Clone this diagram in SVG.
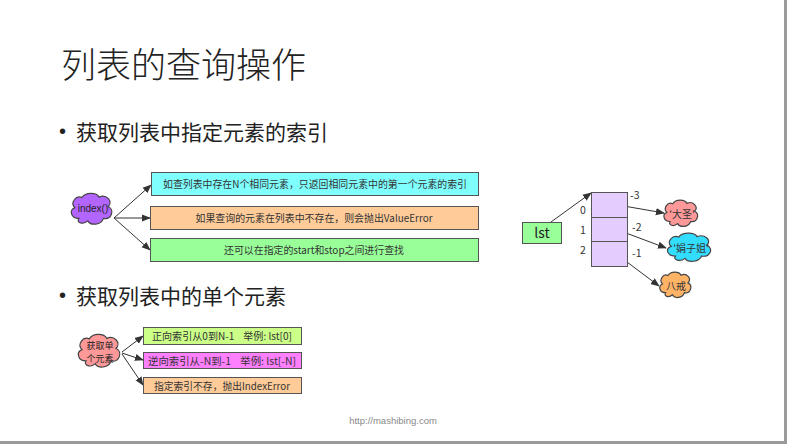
<svg xmlns="http://www.w3.org/2000/svg" xmlns:xlink="http://www.w3.org/1999/xlink" width="787" height="444" viewBox="0 0 787 444">
<style>
text{font-family:"Noto Sans CJK SC","Liberation Sans",sans-serif;fill:#222}
.title{font-size:35px;font-weight:300}
.bullet{font-size:21px}
.dot{font-size:20px;font-family:"Liberation Sans",sans-serif}
.box{stroke:#555;stroke-width:1}
.t11{font-size:10px;text-anchor:middle;fill:#333;white-space:pre}
.lbl{font-size:10.5px;fill:#333}
.conn line{stroke:#333;stroke-width:1;marker-end:url(#arr)}
.cloud{stroke:#444;stroke-width:1.2;vector-effect:non-scaling-stroke}
</style>
<defs>
<marker id="arr" viewBox="0 0 10 10" refX="9" refY="5" markerWidth="9" markerHeight="9" markerUnits="userSpaceOnUse" orient="auto">
<path d="M0,1 L10,5 L0,9 Z" fill="#333"/>
</marker>
<symbol id="cloudA" viewBox="0 0 120 80" preserveAspectRatio="none">
<path class="cloud" d="M25,62 C4,62 0,42 15,37 C2,26 18,6 33,13 C42,0 70,0 77,12 C95,4 114,22 100,34 C118,42 108,66 88,62 C82,78 55,80 48,68 C36,78 18,72 25,62 Z"/>
</symbol>
</defs>
<rect x="0" y="0" width="787" height="444" fill="#fff"/>
<rect x="784" y="0" width="3" height="444" fill="#9a9a9a"/>
<rect x="0" y="441" width="787" height="3" fill="#9a9a9a"/>

<text class="title" x="61" y="78">列表的查询操作</text>
<text class="dot" x="59" y="138">•</text>
<text class="bullet" x="76" y="140">获取列表中指定元素的索引</text>
<text class="dot" x="59" y="302">•</text>
<text class="bullet" x="76" y="304">获取列表中的单个元素</text>

<g class="conn" id="connectors">
<line x1="114" y1="218" x2="151" y2="185"/>
<line x1="114" y1="218" x2="150" y2="218"/>
<line x1="114" y1="218" x2="150" y2="250"/>
<line x1="122" y1="352" x2="143" y2="336"/>
<line x1="122" y1="353" x2="143" y2="360"/>
<line x1="122" y1="354" x2="143" y2="385"/>
<line x1="551" y1="222" x2="591" y2="193"/>
<line x1="618" y1="205" x2="664" y2="213"/>
<line x1="618" y1="230" x2="666" y2="248"/>
<line x1="615" y1="253" x2="659" y2="286"/>
</g>

<g id="index-node">
<use xlink:href="#cloudA" x="69" y="192" width="47" height="34" fill="#b366ff"/>
<text x="93" y="212" style="font-size:10px;text-anchor:middle;font-family:'Liberation Sans',sans-serif;fill:#222">index()</text>
</g>
<g id="box1">
<rect class="box" x="151.5" y="172.5" width="327" height="23" fill="#80ffff"/>
<text class="t11" x="315" y="187.5" textLength="304" lengthAdjust="spacingAndGlyphs">如查列表中存在N个相同元素，只返回相同元素中的第一个元素的索引</text>
</g>
<g id="box2">
<rect class="box" x="150.5" y="206.5" width="328" height="23" fill="#ffcc99"/>
<text class="t11" x="314" y="221.5" textLength="237" lengthAdjust="spacingAndGlyphs">如果查询的元素在列表中不存在，则会抛出ValueError</text>
</g>
<g id="box3">
<rect class="box" x="150.5" y="238.5" width="328" height="23" fill="#99ff99"/>
<text class="t11" x="314" y="253.5" textLength="180" lengthAdjust="spacingAndGlyphs">还可以在指定的start和stop之间进行查找</text>
</g>

<g id="get-node">
<use xlink:href="#cloudA" x="76" y="333" width="48" height="36" fill="#ff9999"/>
<text class="t11" x="100" y="349" style="font-size:9px;fill:#222">获取单</text>
<text class="t11" x="100" y="362" style="font-size:9px;fill:#222">个元素</text>
</g>
<g id="boxA">
<rect class="box" x="143.5" y="327.5" width="158" height="17" fill="#ccff88"/>
<text class="t11" x="222" y="340" textLength="140" lengthAdjust="spacingAndGlyphs" xml:space="preserve">正向索引从0到N-1    举例: lst[0]</text>
</g>
<g id="boxB">
<rect class="box" x="143.5" y="352.5" width="158" height="16" fill="#ff80ff"/>
<text class="t11" x="222" y="364.5" textLength="148" lengthAdjust="spacingAndGlyphs" xml:space="preserve">逆向索引从-N到-1    举例: lst[-N]</text>
</g>
<g id="boxC">
<rect class="box" x="143.5" y="377.5" width="158" height="16" fill="#ffcc99"/>
<text class="t11" x="222" y="389.5" textLength="136" lengthAdjust="spacingAndGlyphs">指定索引不存，抛出IndexError</text>
</g>

<g id="lst">
<rect class="box" x="522.5" y="222.5" width="39" height="21" fill="#99ff99"/>
<text x="542" y="238" style="font-size:14px;text-anchor:middle;fill:#222">lst</text>
</g>
<g id="array">
<rect class="box" x="591.5" y="192.5" width="36" height="74" fill="#e5ccff"/>
<line x1="591.5" y1="217.5" x2="627.5" y2="217.5" stroke="#555"/>
<line x1="591.5" y1="241.5" x2="627.5" y2="241.5" stroke="#555"/>
<text class="lbl" x="580" y="214">0</text>
<text class="lbl" x="580" y="234">1</text>
<text class="lbl" x="580" y="254">2</text>
<text class="lbl" x="630" y="199">-3</text>
<text class="lbl" x="632" y="231">-2</text>
<text class="lbl" x="632" y="257">-1</text>
</g>
<g id="dasheng">
<use xlink:href="#cloudA" x="662" y="199" width="39" height="29" fill="#ff9999"/>
<text class="t11" x="682" y="218">'大圣'</text>
</g>
<g id="juanzijie">
<use xlink:href="#cloudA" x="665" y="232" width="50" height="31" fill="#33ddff"/>
<text class="t11" x="691" y="252">'娟子姐'</text>
</g>
<g id="bajie">
<use xlink:href="#cloudA" x="658" y="271" width="36" height="28" fill="#ffb366"/>
<text class="t11" x="676" y="290">八戒</text>
</g>

<text x="393" y="424" style="font-size:9.5px;text-anchor:middle;fill:#888;font-family:'Liberation Sans',sans-serif">http://mashibing.com</text>
</svg>
